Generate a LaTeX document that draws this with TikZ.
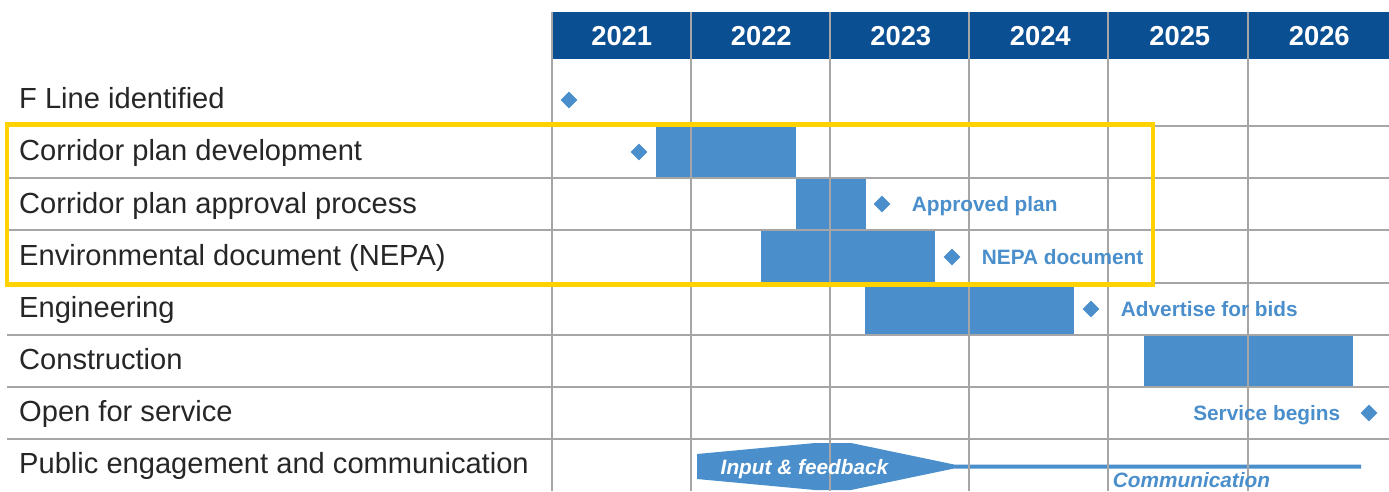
\documentclass[tikz,border=0pt]{standalone}
\usepackage{fontspec}
\setmainfont{Liberation Sans}
\usetikzlibrary{shapes.geometric, positioning}

\definecolor{hdrblue}{HTML}{0B4F93}
\definecolor{barblue}{HTML}{4A8FCB}
\definecolor{gridgray}{HTML}{A6A6A6}
\definecolor{hiyellow}{HTML}{FFD200}
\definecolor{labelgray}{HTML}{262626}

\begin{document}
\begin{tikzpicture}[
  x=1pt, y=-1pt,
  rowlabel/.style={anchor=west, inner sep=0pt, text=labelgray,
             text height=20.8pt, text depth=0pt,
             font=\fontsize{29.1}{32}\selectfont},
  yearlabel/.style={inner sep=0pt, text=white, text height=19.6pt,
             text depth=0pt, font=\fontsize{27.4}{30}\selectfont\bfseries},
  bar/.style={rectangle, fill=barblue, inner sep=0pt, minimum height=52pt},
  milestone/.style={diamond, fill=barblue, inner sep=0pt, minimum size=17pt},
  mslabel/.style={inner sep=0pt, text=barblue, text height=14.9pt,
             text depth=0pt, font=\fontsize{20.8}{24}\selectfont\bfseries},
  commlabel/.style={mslabel, font=\fontsize{20.8}{24}\selectfont\bfseries\itshape},
  gridline/.style={draw=gridgray, line width=1.1pt},
  highlight/.style={draw=hiyellow, line width=4.5pt}
]
\useasboundingbox (0,0) rectangle (1389,491);

% year header
\fill[hdrblue] (552,12) rectangle (1389,59);
\foreach \yr [count=\i] in {2021,2022,2023,2024,2025,2026}
  \node[yearlabel] (yr\yr) at ({552+139.5*(\i-0.5)},35.5) {\yr};

% bars
\node[bar, minimum width=140pt] (devbar) at (726,152) {};
\node[bar, minimum width=70pt] (approvalbar) at (831,204) {};
\node[bar, minimum width=174pt, minimum height=53pt] (nepabar) at (848,256.5) {};
\node[bar, minimum width=209pt] (engbar) at (969.5,309) {};
\node[bar, minimum width=209pt] (constbar) at (1248.5,361) {};

% public engagement band
\fill[barblue] (697,454) -- (815,443) -- (851,443) -- (954,464.5)
  -- (1361,464.5) -- (1361,468.5) -- (954,468.5) -- (851,490)
  -- (815,490) -- (697,479) -- cycle;

% grid
\foreach \y in {126,178,230,283,335,387,439}
  \draw[gridline] (7,\y) -- (1389,\y);
\foreach \x in {552,691,830,969,1108,1248}
  \draw[gridline] (\x,12) -- (\x,491);

\draw[highlight] (7,124.5) rectangle (1153,284.5);

% row labels
\node[rowlabel] (fline) at (19,98) {F Line identified};
\node[rowlabel] (dev) at (19,150) {Corridor plan development};
\node[rowlabel] (approval) at (19,203) {Corridor plan approval process};
\node[rowlabel] (nepa) at (19,255) {Environmental document (NEPA)};
\node[rowlabel] (eng) at (19,307) {Engineering};
\node[rowlabel] (const) at (19,359) {Construction};
\node[rowlabel] (service) at (19,411) {Open for service};
\node[rowlabel] (public) at (19,463) {Public engagement and communication};

% milestones
\node[milestone] (flinems) at (569,100) {};
\node[milestone] (devms) at (639,152) {};
\node[milestone] (approvedms) at (882,204) {};
\node[milestone] (nepams) at (952,257) {};
\node[milestone] (bidsms) at (1091,309) {};
\node[milestone] (servicems) at (1369,413) {};

\node[mslabel, right=21pt of approvedms] (approvedtxt) {Approved plan};
\node[mslabel, right=21pt of nepams] (nepatxt) {NEPA document};
\node[mslabel, right=21pt of bidsms] (bidstxt) {Advertise for bids};
\node[mslabel, left=20pt of servicems] (servicetxt) {Service begins};

\node[commlabel, text=white] (inputtxt) at (804.5,467) {Input \& feedback};
\node[commlabel] (commtxt) at (1191.5,480) {Communication};

\end{tikzpicture}
\end{document}
